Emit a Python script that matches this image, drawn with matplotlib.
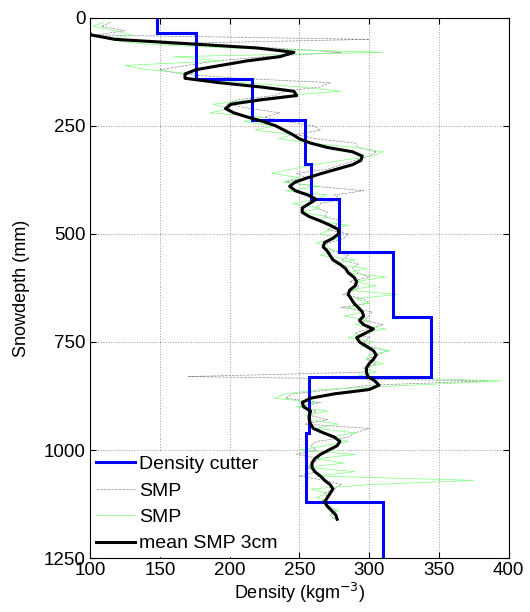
import matplotlib
matplotlib.use("Agg")
import matplotlib.pyplot as plt
import numpy as np

plt.rcParams['font.family'] = ['Liberation Sans', 'DejaVu Sans']

# density cutter layers (depth edges in mm, density in kg/m3)
cutter_edges = [0, 35, 141, 236, 339, 420, 541, 692, 831, 961, 1120, 1250]
cutter_rho = [148, 176, 216, 254, 258, 278, 317, 344, 257, 255, 310]

# SMP profiles, 10 mm spacing
smp_depth = np.arange(10, 1170, 10)
smp_a = [115, 108, 125, 104, 300, 150, 232, 280, 225, 190,
         170, 150, 165, 205, 272, 265, 240, 232, 205, 198,
         215, 236, 225, 240, 260, 265, 248, 262, 290, 292,
         305, 300, 290, 280, 270, 248, 255, 240, 262, 296,
         275, 280, 265, 262, 270, 268, 280, 276, 270, 285,
         282, 272, 266, 276, 285, 280, 292, 288, 292, 300,
         286, 293, 290, 281, 296, 300, 280, 302, 300, 296,
         310, 298, 290, 300, 296, 300, 313, 306, 298, 305,
         298, 296, 170, 385, 300, 275, 245, 240, 265, 250,
         262, 258, 270, 254, 300, 290, 285, 262, 258, 262,
         248, 265, 260, 255, 262, 250, 268, 280, 275, 268,
         270, 265, 272, 276, 272, 275]
smp_b = [110, 102, 118, 130, 112, 135, 200, 310, 160, 195,
         125, 140, 175, 175, 210, 250, 280, 240, 215, 188,
         200, 186, 224, 210, 232, 218, 245, 235, 258, 290,
         310, 302, 280, 260, 245, 230, 250, 238, 265, 240,
         270, 262, 245, 265, 252, 270, 262, 285, 272, 265,
         280, 262, 270, 275, 265, 290, 275, 298, 285, 312,
         290, 305, 285, 320, 290, 300, 285, 296, 282, 300,
         290, 312, 295, 285, 303, 294, 315, 300, 298, 310,
         295, 305, 290, 395, 330, 265, 240, 232, 262, 248,
         270, 255, 258, 278, 262, 290, 272, 285, 268, 250,
         290, 262, 282, 255, 290, 262, 375, 300, 258, 270,
         262, 272, 268, 278, 272, 276]

# 3 cm running mean
mean_depth = np.arange(20, 1170, 10)
mean_rho = [95, 98, 101, 118, 170, 220, 246, 236, 212, 194,
            176, 168, 168, 192, 222, 246, 248, 222, 201, 197,
            203, 213, 224, 233, 239, 245, 250, 258, 270, 288,
            295, 294, 288, 277, 266, 256, 247, 243, 247, 256,
            262, 257, 252, 252, 257, 265, 272, 278, 278, 274,
            268, 267, 270, 272, 274, 279, 283, 285, 289, 291,
            290, 286, 285, 287, 289, 292, 295, 296, 293, 296,
            303, 297, 291, 293, 298, 303, 305, 303, 300, 298,
            298, 299, 304, 307, 300, 275, 258, 252, 253, 258,
            257, 257, 258, 260, 267, 275, 279, 277, 271, 265,
            261, 259, 259, 261, 265, 268, 272, 274, 272, 270,
            268, 270, 273, 276, 277]

fig = plt.figure(figsize=(5.3, 6.12), dpi=100)
ax = fig.add_axes([0.170, 0.088, 0.790, 0.883])

ax.stairs(cutter_rho, cutter_edges, orientation='horizontal', baseline=None,
          color='#0000ff', linewidth=2.2, label='Density cutter', zorder=4)
ax.plot(smp_a, smp_depth, '--', color='#8c8c8c', linewidth=0.5, label='SMP', zorder=2)
ax.plot(smp_b, smp_depth, '-', color='#7cff7c', linewidth=0.5, label='SMP', zorder=2)
ax.plot(mean_rho, mean_depth, '-', color='black', linewidth=2.2, label='mean SMP 3cm', zorder=5)

ax.set_xlim(100, 400)
ax.set_ylim(1250, 0)
ax.set_xticks([100, 150, 200, 250, 300, 350, 400])
ax.set_yticks([0, 250, 500, 750, 1000, 1250])
ax.tick_params(direction='in', top=True, right=True, labelsize=13.5, length=4, pad=3)
ax.grid(True, linestyle=':', color='#999999', linewidth=0.7)
ax.set_xlabel('Density (kgm$^{-3}$)', fontsize=13, labelpad=1)
ax.set_ylabel('Snowdepth (mm)', fontsize=13, labelpad=10)

leg = ax.legend(loc='lower left', fontsize=14, frameon=True, fancybox=False,
                facecolor='white', edgecolor='white', framealpha=1,
                handlelength=2.0, handletextpad=0.2, labelspacing=0.45,
                borderaxespad=0.1, borderpad=0.2)
leg.set_zorder(6)

fig.savefig('out.png', dpi=100)
